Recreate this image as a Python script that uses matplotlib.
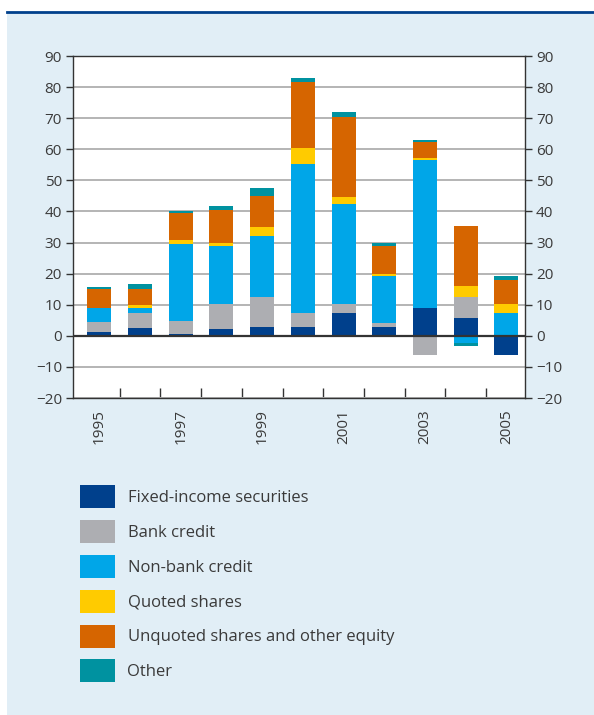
import matplotlib.pyplot as plt
import numpy as np
from matplotlib.patches import Rectangle, Patch
from matplotlib.lines import Line2D

plt.rcParams['font.family'] = ['Open Sans', 'DejaVu Sans']

# Data (EUR billions)
years = ['1995', '1996', '1997', '1998', '1999', '2000', '2001', '2002', '2003', '2004', '2005']
fixed_income = [1.2, 2.5, 0.6, 2.2, 2.7, 2.7, 7.2, 2.8, 8.9, 5.7, -6.2]
bank_credit = [3.2, 4.8, 4.1, 8.0, 9.9, 4.8, 2.9, 1.2, -6.2, 6.7, 0.4]
non_bank_credit = [4.4, 1.5, 24.7, 18.8, 19.6, 47.9, 32.4, 15.4, 47.7, -2.3, 6.9]
quoted_shares = [0.0, 1.0, 1.3, 1.0, 2.9, 5.0, 2.3, 0.5, 0.7, 3.7, 2.9]
unquoted_shares = [6.4, 5.1, 8.8, 10.6, 10.0, 21.1, 25.7, 8.9, 5.1, 19.1, 7.7]
other = [0.6, 1.9, 0.5, 1.3, 2.6, 1.5, 1.6, 1.2, 0.7, -1.0, 1.2]

series = [fixed_income, bank_credit, non_bank_credit, quoted_shares, unquoted_shares, other]
labels = ['Fixed-income securities', 'Bank credit', 'Non-bank credit', 'Quoted shares',
          'Unquoted shares and other equity', 'Other']
colors = ['#00408c', '#adaeb2', '#00a6e8', '#ffcb00', '#d66500', '#0092a0']

bg = '#e1eef6'
txt = '#3a3a3a'

W, H = 594, 715
fig = plt.figure(figsize=(W / 100, H / 100), dpi=100)
fig.patch.set_facecolor('white')
# light blue panel and dark top rule
fig.patches.append(Rectangle((7 / W, 0), 1 - 7 / W, (H - 13) / H, transform=fig.transFigure,
                             facecolor=bg, edgecolor='none', zorder=-10))
fig.lines.append(Line2D([7 / W, 1], [(H - 12) / H] * 2, transform=fig.transFigure,
                        color='#00408c', lw=2, zorder=-9))

left, right, top, bottom = 73, 525, 56, 398
ax = fig.add_axes([left / W, 1 - bottom / H, (right - left) / W, (bottom - top) / H])
ax.set_facecolor('white')

x = np.arange(len(years))
pos_base = np.zeros(len(years))
neg_base = np.zeros(len(years))
for vals, lab, col in zip(series, labels, colors):
    v = np.array(vals)
    base = np.where(v >= 0, pos_base, neg_base)
    ax.bar(x, v, 0.59, bottom=base, color=col, label=lab, linewidth=0, zorder=3)
    pos_base += np.where(v >= 0, v, 0)
    neg_base += np.where(v < 0, v, 0)

ax.set_xlim(-0.65, len(years) - 0.54)
ax.set_ylim(-20, 90)
yt = np.arange(-20, 91, 10)
ax.set_yticks(yt)
ax.set_yticklabels([f'{t}'.replace('-', '\u2212') for t in yt])
ax.yaxis.grid(True, color='#b4b4b4', lw=1.4, zorder=1)
ax.axhline(0, color='#333333', lw=1.6, zorder=4)

ax.set_xticks(x[::2])
ax.set_xticklabels(years[::2], rotation=90)
ax.set_xticks(x[:-1] + 0.5, minor=True)
ax.tick_params(axis='x', which='major', length=0, pad=8, labelsize=11, labelcolor=txt)
ax.tick_params(axis='x', which='minor', direction='in', length=7, width=1, color='#333333')
ax.tick_params(axis='y', direction='out', length=5, width=1, color='#333333',
               labelsize=11, labelcolor=txt, pad=3)
for s in ax.spines.values():
    s.set_color('#333333')
    s.set_linewidth(1)

ax2 = ax.twinx()
ax2.set_ylim(ax.get_ylim())
ax2.set_yticks(yt)
ax2.set_yticklabels([f'{t}'.replace('-', '\u2212') for t in yt])
ax2.tick_params(axis='y', direction='out', length=5, width=1, color='#333333',
                labelsize=11, labelcolor=txt, pad=3)
for s in ax2.spines.values():
    s.set_visible(False)

handles = [Patch(facecolor=c, edgecolor='none') for c in colors]
fig.legend(handles, labels, loc='upper left', bbox_to_anchor=(80 / W, 1 - 485 / H),
           frameon=False, fontsize=12, labelcolor=txt, handlelength=2.1, handleheight=1.75,
           handletextpad=0.75, labelspacing=0.71, borderaxespad=0, borderpad=0)

fig.savefig('out.png', dpi=100, facecolor=fig.get_facecolor())
